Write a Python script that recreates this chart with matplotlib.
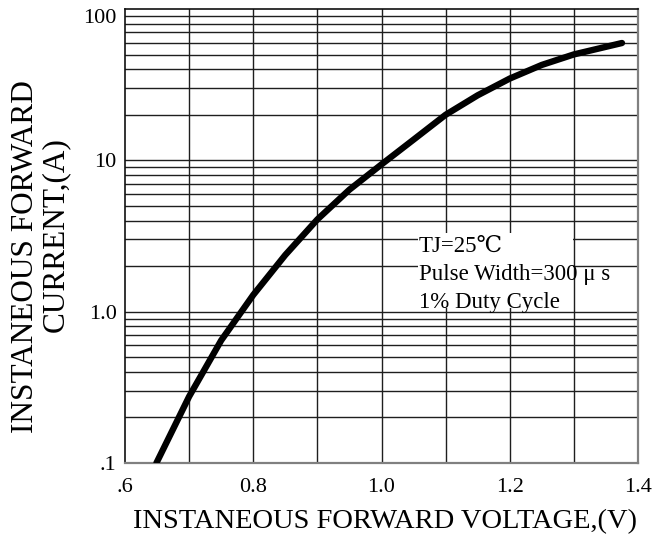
import matplotlib
matplotlib.use("Agg")
import matplotlib.pyplot as plt
from matplotlib.patches import Rectangle

voltage = [0.649, 0.70, 0.75, 0.80, 0.85, 0.90, 0.95, 1.00, 1.05, 1.10, 1.15, 1.20, 1.25, 1.30, 1.375]
current = [0.10, 0.275, 0.646, 1.29, 2.37, 4.07, 6.4, 9.4, 13.7, 20.0, 26.9, 34.7, 42.7, 50.1, 59.6]

x_ticks = [0.6, 0.8, 1.0, 1.2, 1.4]
x_tick_labels = [".6", "0.8", "1.0", "1.2", "1.4"]
y_ticks = [0.1, 1.0, 10, 100]
y_tick_labels = [".1", "1.0", "10", "100"]
x_grid = [0.7, 0.8, 0.9, 1.0, 1.1, 1.2, 1.3]

annotation_lines = ["TJ=25\u2103", "Pulse Width=300 \u03bc s", "1% Duty Cycle"]
xlabel = "INSTANEOUS FORWARD VOLTAGE,(V)"
ylabel_lines = ["INSTANEOUS FORWARD", "CURRENT,(A)"]

FONT = ["Liberation Serif", "DejaVu Serif", "Noto Sans CJK SC", "DejaVu Sans"]
plt.rcParams["font.family"] = FONT

fig = plt.figure(figsize=(6.69, 5.45), dpi=100)
ax = fig.add_axes([125/669, (545-463)/545, (638-125)/669, (463-9)/545])
ax.set_yscale("log")
ax.set_xlim(0.6, 1.4)
ax.set_ylim(0.1, 100)
ax.set_axisbelow(True)

# grid
gc = "#1e1e1e"
for xv in x_grid:
    ax.axvline(xv, color=gc, lw=1.0, zorder=0.5)
for dec in [0.1, 1, 10]:
    for m in range(1, 10):
        yv = dec * m
        if 0.1 < yv < 100:
            ax.axhline(yv, color=gc, lw=1.0, zorder=0.5)

# white box behind annotation
ax.add_patch(Rectangle((1.057, 1.06), 1.2985 - 1.057, 3.31 - 1.06,
                       facecolor="white", edgecolor="none", zorder=1))

ax.plot(voltage, current, color="black", lw=4.6, solid_capstyle="round",
        solid_joinstyle="round", zorder=3)

ax.set_xticks(x_ticks)
ax.set_xticklabels(x_tick_labels)
ax.set_yticks(y_ticks)
ax.set_yticklabels(y_tick_labels)
ax.yaxis.set_minor_locator(matplotlib.ticker.NullLocator())
ax.tick_params(axis="both", length=0, labelsize=16)
ax.tick_params(axis="x", pad=11)
ax.tick_params(axis="y", pad=6)
ax.get_yticklabels()[-1].set_va("top")

for s in ["left", "top"]:
    ax.spines[s].set_color("#111111")
    ax.spines[s].set_linewidth(1.2)
for s in ["right", "bottom"]:
    ax.spines[s].set_color("#808080")
    ax.spines[s].set_linewidth(1.6)

# annotation
for i, line in enumerate(annotation_lines):
    fig.text(419/669, 1 - (252 + 28*i)/545, line, fontsize=16.5,
             ha="left", va="baseline", zorder=4)

fig.text(385/669, 1 - 522/545, xlabel, fontsize=20.5, ha="center", va="center")
fig.text(26/669, 1 - 257/545, ylabel_lines[0], fontsize=22.5, rotation=90,
         ha="center", va="center")
fig.text(55/669, 1 - 235/545, ylabel_lines[1], fontsize=22.5, rotation=90,
         ha="center", va="center")

fig.savefig("out.png", dpi=100)
